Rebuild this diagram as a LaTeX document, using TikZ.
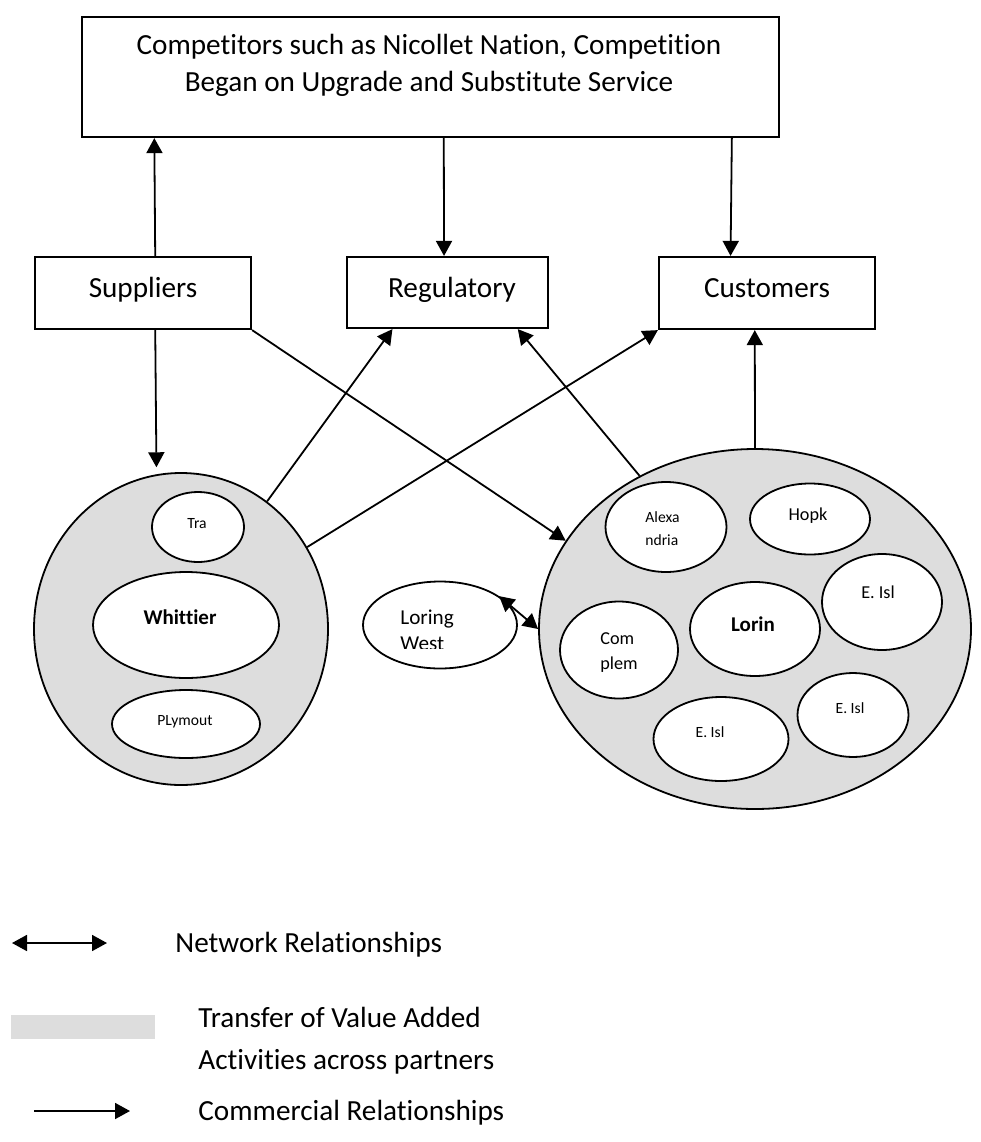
\documentclass[tikz,border=0pt]{standalone}
\usepackage{fontspec}
\setmainfont{Carlito}[Ligatures=NoCommon]
\usetikzlibrary{arrows.meta,shapes.geometric,calc}
\definecolor{groupgray}{HTML}{DDDDDD}
\begin{document}
\begin{tikzpicture}[x=0.5pt,y=-0.5pt,
  boxnode/.style={draw, rectangle, line width=1.1pt, inner sep=0pt},
  group/.style={draw, ellipse, line width=0.9pt, fill=groupgray, inner sep=0pt},
  oval/.style={draw, ellipse, line width=0.9pt, fill=white, inner sep=0pt},
  arr/.style={line width=0.9pt, -{Triangle[length=7.5pt,width=8pt]}},
  darr/.style={line width=0.9pt, {Triangle[length=7.5pt,width=8pt]}-{Triangle[length=7.5pt,width=8pt]}},
  lbl/.style={inner sep=0pt, font=\fontsize{14.6}{18.5}\selectfont},
  boxlbl/.style={lbl, text height=10pt, text depth=3pt},
  tiny/.style={inner sep=0pt, font=\fontsize{7.8}{11.5}\selectfont},
  small/.style={inner sep=0pt, font=\fontsize{9.1}{12.5}\selectfont},
  mid/.style={inner sep=0pt, font=\fontsize{10.6}{13}\selectfont},
  strong/.style={inner sep=0pt, font=\fontsize{10.5}{13}\selectfont\bfseries}]
\useasboundingbox (0,0) rectangle (981,1142);

% boxes
\node[boxnode, minimum width=348.5pt, minimum height=60pt] (top) at (430.5,77) {};
\node[lbl, align=center] (top-t) at (429,65) {Competitors such as Nicollet Nation, Competition\\Began on Upgrade and Substitute Service};

\node[boxnode, minimum width=108pt, minimum height=36pt] (sup) at (143,293) {};
\node[boxlbl] (sup-t) at (143,290) {Suppliers};
\node[boxnode, minimum width=100.5pt, minimum height=35.5pt] (reg) at (447.5,292.5) {};
\node[boxlbl] (reg-t) at (452,290) {Regulatory};
\node[boxnode, minimum width=108pt, minimum height=36pt] (cus) at (767,293) {};
\node[boxlbl] (cus-t) at (767,290) {Customers};

% partner groups
\node[group, minimum width=147pt, minimum height=156pt] (wc) at (181,629) {};
\node[group, minimum width=216pt, minimum height=180pt] (rc) at (755,629) {};

% left group members
\node[oval, minimum width=46pt, minimum height=35pt] (tra) at (198,527) {};
\node[tiny] (tra-t) at (197,524) {Tra};
\node[oval, minimum width=93pt, minimum height=53pt] (whit) at (186,625) {};
\node[strong] (whit-t) at (180,617) {Whittier};
\node[oval, minimum width=74pt, minimum height=34pt] (ply) at (186,724) {};
\node[tiny] (ply-t) at (185,722) {PLymout};

% right group members
\node[oval, minimum width=60.5pt, minimum height=45pt] (alex) at (666,527) {};
\node[tiny, anchor=west, align=left] (alex-t) at (645,529) {Alexa\\ndria};
\node[oval, minimum width=60pt, minimum height=35.5pt] (hopk) at (810,519) {};
\node[small] (hopk-t) at (808,516) {Hopk};
\node[oval, minimum width=60pt, minimum height=48pt] (eisl1) at (882,602) {};
\node[small] (eisl1-t) at (878,592) {E. Isl};
\node[oval, minimum width=65pt, minimum height=47pt] (lorin) at (755,629) {};
\node[strong] (lorin-t) at (753,624) {Lorin};
\node[oval, minimum width=59pt, minimum height=48.5pt] (comp) at (619,650) {};
\node[small, anchor=west, align=left] (comp-t) at (600,653) {Com\\plem};
\node[oval, minimum width=67.5pt, minimum height=42pt] (eisl2) at (721,739) {};
\node[tiny] (eisl2-t) at (710,732) {E. Isl};
\node[oval, minimum width=55.5pt, minimum height=42pt] (eisl3) at (853,715) {};
\node[tiny] (eisl3-t) at (850,708) {E. Isl};

% outside partner
\node[oval, minimum width=77pt, minimum height=43.5pt] (lw) at (440,625) {};
\begin{scope}
  \clip (380,596) rectangle (500,648);
  \node[mid, anchor=west, align=left] (lw-t) at (400,630) {Loring\\West};
\end{scope}

% commercial relationships
\draw[arr] ($(sup.north west)!0.556!(sup.north east)$) -- ($(top.south west)!0.105!(top.south east)$);
\draw[arr] ($(top.south west)!0.519!(top.south east)$) -- ($(reg.north west)!0.483!(reg.north east)$);
\draw[arr] ($(top.south west)!0.931!(top.south east)$) -- ($(cus.north west)!0.333!(cus.north east)$);
\draw[arr, shorten >=3.5pt] ($(sup.south west)!0.556!(sup.south east)$) -- (wc.99.6);
\draw[arr] (sup.south east) -- (rc.155);
\draw[arr] (wc.56.6) -- ($(reg.south west)!0.229!(reg.south east)$);
\draw[arr] (wc.33.3) -- (cus.south west);
\draw[arr] (rc.127.6) -- ($(reg.south west)!0.846!(reg.south east)$);
\draw[arr] (rc.north) -- ($(cus.south west)!0.444!(cus.south east)$);

% network relationship
\draw[darr] (lw.26) -- (rc.180);

% legend
\coordinate (nw-a) at (12,943);
\coordinate (nw-b) at (107,943);
\draw[darr] (nw-a) -- (nw-b);
\node[lbl, anchor=west] (nw-t) at (175,945) {Network Relationships};
\node[fill=groupgray, minimum width=72pt, minimum height=12pt, inner sep=0pt] (sw) at (83,1027) {};
\node[lbl, anchor=west, align=left, font=\fontsize{14.6}{21}\selectfont] (tv-t) at (198,1041) {Transfer of Value Added\\Activities across partners};
\coordinate (cm-a) at (34,1111);
\coordinate (cm-b) at (130,1111);
\draw[arr] (cm-a) -- (cm-b);
\node[lbl, anchor=west] (cm-t) at (198,1113) {Commercial Relationships};
\end{tikzpicture}
\end{document}
